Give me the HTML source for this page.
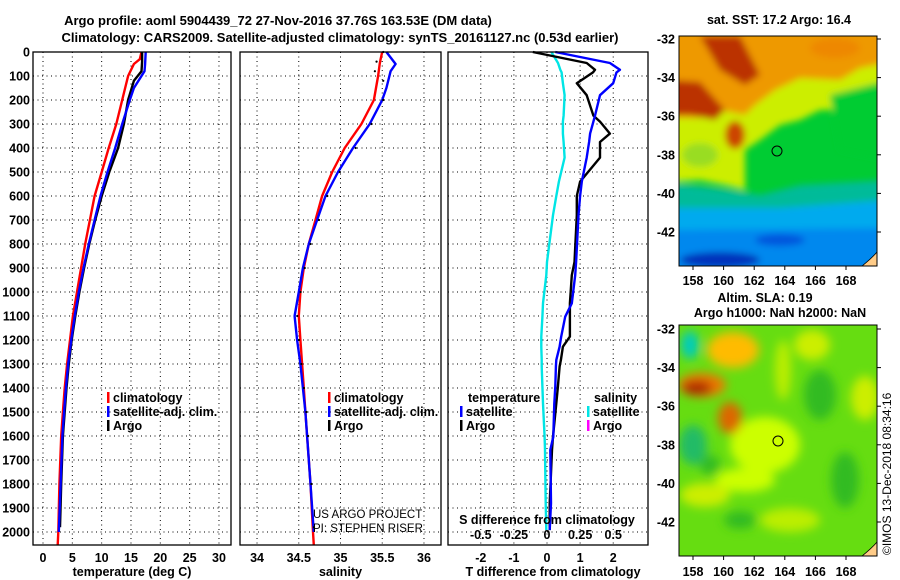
<!DOCTYPE html>
<html><head><meta charset="utf-8"><style>
body{margin:0;background:#fff}
svg{display:block;font-family:"Liberation Sans",sans-serif}
.t{font-weight:bold;font-size:13px}
.k{font-weight:bold;font-size:12.5px}
</style></head><body>
<svg id="c" width="900" height="580" viewBox="0 0 900 580">
<defs>
<filter id="bl" x="-20%" y="-20%" width="140%" height="140%"><feGaussianBlur stdDeviation="3.5"/></filter>
<filter id="bl2" x="-20%" y="-20%" width="140%" height="140%"><feGaussianBlur stdDeviation="5"/></filter>
<clipPath id="cm1"><rect x="679" y="36" width="198" height="230"/></clipPath>
<clipPath id="cm2"><rect x="679" y="325" width="198" height="231"/></clipPath>
</defs>
<text class="t" x="278" y="25" text-anchor="middle">Argo profile: aoml 5904439_72 27-Nov-2016 37.76S 163.53E (DM data)</text>
<text class="t" x="340" y="42" text-anchor="middle">Climatology: CARS2009. Satellite-adjusted climatology: synTS_20161127.nc (0.53d earlier)</text>
<g id="plots"></g>
<!-- SST map -->
<g>
<text class="k" x="779" y="24" text-anchor="middle">sat. SST: 17.2 Argo: 16.4</text>
<g clip-path="url(#cm1)">
<rect x="679" y="36" width="198" height="230" fill="#00cc33"/>
<g filter="url(#bl)">
<path d="M670 30 H890 V85 L860 95 L845 110 L820 110 L800 120 L780 125 L760 140 L745 150 L745 190 L725 185 L700 180 L670 182 Z" fill="#ccee00"/>
<path d="M670 30 H890 V62 L860 68 L840 80 L800 78 L775 90 L755 105 L745 115 L720 110 L700 118 L670 118 Z" fill="#ee9900"/>
<path d="M700 36 L740 36 L760 75 L745 85 L720 70 Z" fill="#bb3300"/>
<path d="M670 80 L700 82 L725 110 L715 120 L690 115 L670 115 Z" fill="#bb3300"/>
<ellipse cx="735" cy="135" rx="10" ry="14" fill="#cc4400"/>
<ellipse cx="700" cy="155" rx="18" ry="12" fill="#99dd22"/>
<ellipse cx="835" cy="48" rx="25" ry="10" fill="#ee8800"/>
<path d="M830 95 L890 80 V160 L840 150 Z" fill="#00cc33"/>
<path d="M670 183 L730 190 L760 195 L800 185 L890 180 V290 H670 Z" fill="#00bb99"/>
<path d="M670 208 L780 208 L890 200 V290 H670 Z" fill="#00aaee"/>
<path d="M670 230 L890 228 V290 H670 Z" fill="#0088ee"/>
<ellipse cx="720" cy="260" rx="40" ry="8" fill="#0033bb"/>
<ellipse cx="780" cy="240" rx="25" ry="6" fill="#0055dd"/>
</g>
<path d="M862 266 Q872 258 877 252 V266 Z" fill="#ffcc88" stroke="#000" stroke-width="0.8"/>
</g>
<rect x="679" y="36" width="198" height="230" fill="none" stroke="#000" stroke-width="1"/>
<circle cx="777" cy="151" r="5" fill="none" stroke="#000" stroke-width="1"/>
</g>
<!-- SLA map -->
<g>
<text class="k" x="765" y="302" text-anchor="middle">Altim. SLA: 0.19</text>
<text class="k" x="780" y="317" text-anchor="middle">Argo h1000: NaN h2000: NaN</text>
<g clip-path="url(#cm2)">
<rect x="679" y="325" width="198" height="231" fill="#66dd11"/>
<g filter="url(#bl2)">
<ellipse cx="765" cy="445" rx="35" ry="28" fill="#ccff00"/>
<ellipse cx="745" cy="480" rx="30" ry="12" fill="#ccff00"/>
<ellipse cx="705" cy="495" rx="25" ry="12" fill="#ccee00"/>
<ellipse cx="812" cy="345" rx="18" ry="15" fill="#ccee00"/>
<ellipse cx="783" cy="370" rx="8" ry="30" fill="#bbee00"/>
<ellipse cx="865" cy="398" rx="14" ry="22" fill="#ccee00"/>
<ellipse cx="790" cy="520" rx="30" ry="12" fill="#bbee00"/>
<ellipse cx="733" cy="350" rx="26" ry="18" fill="#ffbb00"/>
<ellipse cx="702" cy="385" rx="24" ry="12" fill="#ee7700"/>
<ellipse cx="697" cy="388" rx="15" ry="7" fill="#aa2200"/>
<ellipse cx="730" cy="418" rx="12" ry="16" fill="#dd6600"/>
<ellipse cx="690" cy="345" rx="9" ry="14" fill="#00ccbb"/>
<ellipse cx="693" cy="445" rx="14" ry="20" fill="#22bb66"/>
<ellipse cx="820" cy="395" rx="16" ry="25" fill="#33bb22"/>
<ellipse cx="845" cy="480" rx="14" ry="28" fill="#33bb22"/>
<ellipse cx="740" cy="520" rx="16" ry="9" fill="#33bb22"/>
<ellipse cx="710" cy="465" rx="10" ry="10" fill="#33bb22"/>
</g>
<path d="M862 556 Q872 548 877 542 V556 Z" fill="#ffcc88" stroke="#000" stroke-width="0.8"/>
</g>
<rect x="679" y="325" width="198" height="231" fill="none" stroke="#000" stroke-width="1"/>
<circle cx="778" cy="441" r="5" fill="none" stroke="#000" stroke-width="1"/>
<text x="891" y="555" font-size="12" transform="rotate(-90 891 555)">©IMOS 13-Dec-2018 08:34:16</text>
</g>
<g id="mapaxes"></g>
</svg>
<script>
// ---- data ----
const depthTicks=[0,100,200,300,400,500,600,700,800,900,1000,1100,1200,1300,1400,1500,1600,1700,1800,1900,2000];
const tempTicks=[0,5,10,15,20,25,30];
const salTicks=[34,34.5,35,35.5,36];
const salTickLabels=["34","34.5","35","35.5","36"];
const tdiffTicks=[-2,-1,0,1,2];
const sdiffTicks=[-0.5,-0.25,0,0.25,0.5];
const sdiffTickLabels=["-0.5","-0.25","0","0.25","0.5"];

const climDepth=[0,30,50,100,200,300,400,500,600,700,800,900,1000,1100,1200,1300,1400,1500,1600,1800,2000,2054];
const climTemp=[16.8,16.5,15.5,14.5,13.5,12.5,11.2,10,8.8,8,7.2,6.5,5.8,5.1,4.6,4.1,3.7,3.4,3.1,2.8,2.6,2.5];
const climSal=[35.5,35.48,35.47,35.45,35.4,35.25,35.05,34.9,34.78,34.7,34.62,34.56,34.52,34.5,34.52,34.54,34.56,34.58,34.6,34.64,34.67,34.68];
const satDepth=[0,50,80,150,200,300,400,500,600,700,800,900,1000,1100,1200,1300,1400,1500,1600,1800,2000];
const satTemp=[17.5,17.4,17.3,15.5,14.8,13.5,12.3,11,9.8,8.8,7.8,6.9,6.1,5.4,4.8,4.3,3.9,3.6,3.3,3.0,2.7];
const satSal=[35.55,35.66,35.6,35.55,35.5,35.35,35.15,34.97,34.82,34.72,34.62,34.55,34.5,34.45,34.48,34.52,34.55,34.58,34.6,34.64,34.68];
const argoDepth=[0,40,80,120,200,300,400,500,600,700,800,900,1000,1100,1200,1300,1400,1500,1600,1800,1980];
const argoTemp=[16.9,16.9,16.8,15.5,14.5,13.8,12.8,11.3,10,8.9,7.9,7,6.2,5.5,4.9,4.4,4,3.7,3.4,3.1,2.9];
const argoSal=[35.5,35.42,35.4,35.5,35.5,35.36,35.17,34.98,34.83,34.73,34.63,34.56,34.51,34.47,34.49,34.52,34.55,34.58,34.6,34.64,34.67];

const dDepth=[0,46,74,85,130,180,265,290,340,375,440,540,600,680,875,930,1047,1103,1186,1228,1283,1311,1394,1464,1603,1658,1880,1992];
const tdiffSat=[0.25,1.9,2.2,2.1,2.0,1.6,1.45,1.4,1.3,1.27,1.2,1.05,1.0,0.95,0.88,0.85,0.75,0.55,0.43,0.38,0.28,0.27,0.25,0.22,0.19,0.1,0.12,0.08];
const tdiffArgo=[-0.43,1.2,1.45,1.39,0.9,1.2,1.4,1.6,1.9,1.6,1.6,1.0,0.9,0.9,0.83,0.75,0.69,0.69,0.69,0.48,0.42,0.38,0.33,0.28,0.18,0.15,0.08,0.08];
const sdiffSat=[0.033,0.083,0.1,0.11,0.12,0.133,0.125,0.12,0.12,0.125,0.133,0.09,0.07,0.045,0.0,-0.005,-0.03,-0.035,-0.043,-0.043,-0.04,-0.04,-0.035,-0.03,-0.018,-0.015,-0.01,-0.005];

const latTicks=[-32,-34,-36,-38,-40,-42];
const lonTicks=[158,160,162,164,166,168];

// ---- drawing ----
const NS="http://www.w3.org/2000/svg";
const root=document.getElementById('plots');
function mk(tag,attrs,parent){const e=document.createElementNS(NS,tag);for(const k in attrs)e.setAttribute(k,attrs[k]);(parent||root).appendChild(e);return e;}
const Y0=52, PXD=0.24;
function yD(d){return Y0+d*PXD;}
function axis(x0,x1,min,max){return v=>x0+(v-min)/(max-min)*(x1-x0);}
const panels=[
 {name:'temperature-panel',x0:33,x1:231,f:axis(33,231,-1.705,32.05),ticks:tempTicks,labels:tempTicks.map(String),title:'temperature (deg C)'},
 {name:'salinity-panel',x0:240,x1:441,f:axis(240,441,33.796,36.204),ticks:salTicks,labels:salTickLabels,title:'salinity'},
 {name:'difference-panel',x0:448,x1:648,f:axis(448,648,-2.99,3.05),ticks:tdiffTicks,labels:tdiffTicks.map(String),title:'T difference from climatology'}
];
const yBot=545;
panels.forEach((p,i)=>{
 const g=mk('g',{});
 
 
 p.g=g;
 depthTicks.forEach(d=>{const l=mk('line',{x1:p.x0,x2:p.x1,y1:yD(d),y2:yD(d),stroke:'#000','stroke-width':1,'stroke-dasharray':'1 3.5'},g);});
 p.ticks.forEach((t,j)=>{
  const x=p.f(t);
  const l=mk('line',{x1:x,x2:x,y1:Y0,y2:yBot,stroke:'#000','stroke-width':1,'stroke-dasharray':'1 3.5'},g);
  
  const tx=mk('text',{x:x,y:562,'text-anchor':'middle','class':'k'},g);tx.textContent=p.labels[j];
  
 });
 const tt=mk('text',{x:(p.x0+p.x1)/2+(i==2?5:0),y:576,'text-anchor':'middle','class':'k'},g);tt.textContent=p.title;
 
 p.frame=()=>{const r=mk('rect',{x:p.x0,y:Y0,width:p.x1-p.x0,height:yBot-Y0,fill:'none',stroke:'#000','stroke-width':1.3},g);};
});
depthTicks.forEach(d=>{const t=mk('text',{x:30,y:yD(d)+4.5,'text-anchor':'end','class':'k'});t.textContent=String(d);
 });

function series(p,depths,vals,color,name,scale,w){
 const s=scale||1;
 const pts=depths.map((d,i)=>p.f(vals[i]*s).toFixed(1)+','+yD(d).toFixed(1)).join(' ');
 const l=mk('polyline',{points:pts,fill:'none',stroke:color,'stroke-width':w||2.4,'stroke-linejoin':'round'},p.g);
 
}
const [P1,P2,P3]=panels;
series(P1,climDepth,climTemp,'#ff0000','clim-temperature-line');
series(P1,argoDepth,argoTemp,'#000000','argo-temperature-line');
series(P1,satDepth,satTemp,'#0000ff','sat-temperature-line');
series(P2,climDepth,climSal,'#ff0000','clim-salinity-line');
series(P2,satDepth,satSal,'#0000ff','sat-salinity-line');
argoDepth.forEach((d,i)=>{const c=mk('circle',{cx:P2.f(argoSal[i])+1,cy:yD(d),r:1.1,fill:'#000'},P2.g);});
series(P3,dDepth,sdiffSat,'#00e5e5','sat-salinity-diff-line',4);
series(P3,dDepth,tdiffArgo,'#000000','argo-temperature-diff-line');
series(P3,dDepth,tdiffSat,'#0000ff','sat-temperature-diff-line');
panels.forEach(p=>p.frame());

const st=mk('text',{x:547,y:524,'text-anchor':'middle','class':'k'},P3.g);st.textContent='S difference from climatology';

sdiffTicks.forEach((s,j)=>{const t=mk('text',{x:P3.f(s*4),y:539,'text-anchor':'middle','class':'k'},P3.g);t.textContent=sdiffTickLabels[j];
 });

function legend(x,y,color,label,g){
 const r=mk('rect',{x:x,y:y-10,width:2.5,height:11,fill:color},g);
 const t=mk('text',{x:x+6,y:y,'class':'k'},g);t.textContent=label;
}
legend(107,402,'#ff0000','climatology',P1.g);legend(107,416,'#0000ff','satellite-adj. clim.',P1.g);legend(107,430,'#000','Argo',P1.g);
legend(328,402,'#ff0000','climatology',P2.g);legend(328,416,'#0000ff','satellite-adj. clim.',P2.g);legend(328,430,'#000','Argo',P2.g);
const lt=mk('text',{x:468,y:402,'class':'k'},P3.g);lt.textContent='temperature';
legend(460,416,'#0000ff','satellite',P3.g);legend(460,430,'#000','Argo',P3.g);
const ls=mk('text',{x:594,y:402,'class':'k'},P3.g);ls.textContent='salinity';
legend(587,416,'#00e5e5','satellite',P3.g);legend(587,430,'#ff00ff','Argo',P3.g);
const c1=mk('text',{x:313,y:518,'font-size':11.5},P2.g);c1.textContent='US ARGO PROJECT';
const c2=mk('text',{x:313,y:532,'font-size':11.5},P2.g);c2.textContent='PI: STEPHEN RISER';

const ma=document.getElementById('mapaxes');
function mapAxes(top,lat0y,lonY,bottom){
 latTicks.forEach(l=>{const y=lat0y+(-32-l)*19.3;
  const t=mk('text',{x:675,y:y+4.5,'text-anchor':'end','class':'k'},ma);t.textContent=String(l);
  const k=mk('line',{x1:877,x2:881,y1:y,y2:y,stroke:'#000'},ma);});
 lonTicks.forEach(l=>{const x=693+(l-158)*15.3;
  const t=mk('text',{x:x,y:lonY,'text-anchor':'middle','class':'k'},ma);t.textContent=String(l);
  const k=mk('line',{x1:x,x2:x,y1:bottom,y2:bottom+4,stroke:'#000'},ma);});
}
mapAxes(36,39,285,266);
mapAxes(325,329,576,556);
</script>
</body></html>
